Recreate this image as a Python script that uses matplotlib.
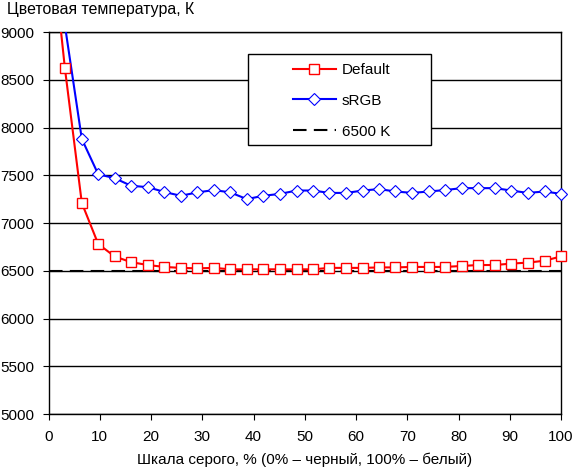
import matplotlib
matplotlib.use("Agg")
import matplotlib.pyplot as plt
from matplotlib.patches import Rectangle
from matplotlib.lines import Line2D

plt.rcParams['font.family'] = ['Liberation Sans', 'DejaVu Sans']

# Данные: уровень серого, % и цветовая температура, K
grey = [0, 3.2, 6.5, 9.7, 12.9, 16.1, 19.4, 22.6, 25.8, 29.0, 32.3, 35.5,
        38.7, 41.9, 45.2, 48.4, 51.6, 54.8, 58.1, 61.3, 64.5, 67.7, 71.0,
        74.2, 77.4, 80.6, 83.9, 87.1, 90.3, 93.5, 96.8, 100]
default = [10250, 8620, 7210, 6780, 6650, 6590, 6560, 6540, 6530, 6525,
           6530, 6515, 6515, 6515, 6515, 6515, 6515, 6530, 6530, 6530,
           6535, 6535, 6540, 6540, 6540, 6550, 6560, 6560, 6575, 6585,
           6605, 6650]
srgb = [11500, 9070, 7880, 7510, 7470, 7390, 7375, 7325, 7285, 7320,
        7345, 7320, 7250, 7285, 7305, 7340, 7340, 7315, 7315, 7340,
        7355, 7330, 7315, 7330, 7345, 7365, 7365, 7365, 7340, 7315,
        7330, 7305]
ref_x = [0, 100]
ref_y = [6500, 6500]

ymin, ymax = 5000, 9000

fig = plt.figure(figsize=(5.73, 4.67), dpi=100)
ax = fig.add_axes([48.5 / 573, 53 / 467, 512.5 / 573, 382 / 467])

ax.plot(ref_x, ref_y, color='black', lw=1.5, dashes=(6.5, 3.5), zorder=2)
ax.plot(grey, default, color='red', lw=1.5, zorder=3)
ax.plot(grey, srgb, color='blue', lw=1.5, zorder=3)

# маркеры не обрезаются по краю осей (как в Excel)
for ys, mk, ms, col, mew in [(default, 's', 7.5, 'red', 1), (srgb, 'D', 6, 'blue', 0.8)]:
    px = [x for x, y in zip(grey, ys) if ymin <= y <= ymax]
    py = [y for y in ys if ymin <= y <= ymax]
    ax.plot(px, py, ls='none', marker=mk, ms=ms, mfc='white', mec=col,
            mew=mew, zorder=3.5, clip_on=False)

ax.set_xlim(0, 100)
ax.set_ylim(ymin, ymax)
ax.set_xticks(range(0, 101, 10))
ax.set_yticks(range(5000, 9001, 500))
ax.tick_params(direction='out', length=4, width=0.8, labelsize=11, colors='black')
ax.tick_params(axis='x', pad=7.5)
ax.tick_params(axis='y', pad=6)
ax.yaxis.grid(True, color='black', lw=1)
ax.set_axisbelow(True)
for s in ax.spines.values():
    s.set_linewidth(1)

# рамка легенды
ax.add_patch(Rectangle((199.5 / 512.5, 269 / 382), 183 / 512.5, 91 / 382,
                       transform=ax.transAxes, facecolor='white',
                       edgecolor='black', lw=1, zorder=4))
handles = [
    Line2D([], [], color='red', lw=1.5, marker='s', ms=7.5, mfc='white', mec='red', mew=1),
    Line2D([], [], color='blue', lw=1.5, marker='D', ms=6, mfc='white', mec='blue', mew=0.8),
    Line2D([], [], color='black', lw=1.5, dashes=(6.5, 3.5)),
]
labels = ['Default', 'sRGB', '6500 K']
leg = ax.legend(handles, labels, loc='upper left',
                bbox_to_anchor=(244.5 / 512.5, 351 / 382),
                frameon=False, borderpad=0, borderaxespad=0, fontsize=11,
                handlelength=2.8, handletextpad=0.4, labelspacing=1.1,
                numpoints=1)
leg.set_zorder(5)

fig.text(7 / 573, 1 - 9.5 / 467, 'Цветовая температура, К', fontsize=11.4,
         ha='left', va='center')
fig.text(305 / 573, 1 - 460 / 467, 'Шкала серого, % (0% – черный, 100% – белый)',
         fontsize=11, ha='center', va='center')

fig.savefig('out.png', dpi=100)
